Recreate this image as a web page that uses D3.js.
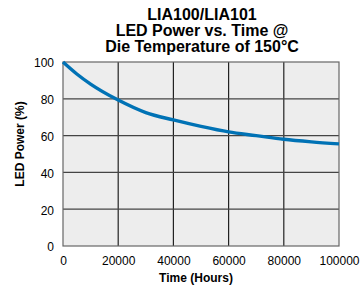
<!DOCTYPE html>
<html>
<head>
<meta charset="utf-8">
<script src="https://cdn.jsdelivr.net/npm/d3@7"></script>
<style>
body { margin: 0; background: #fff; }
text { font-family: "Liberation Sans", Arial, sans-serif; }
</style>
</head>
<body>
<div id="chart"></div>
<script>
// values
var hours = [0, 5000, 10000, 20000, 30000, 40000, 50000, 60000, 70000, 80000, 90000, 100000];
var power = [100, 93.5, 88, 79.3, 72.5, 68.5, 65, 62, 60, 58, 56.6, 55.5];
var xTicks = [0, 20000, 40000, 60000, 80000, 100000];
var yTicks = [0, 20, 40, 60, 80, 100];
var titleLines = ["LIA100/LIA101", "LED Power vs. Time @", "Die Temperature of 150°C"];

var width = 361, height = 293;
var plotLeft = 63, plotRight = 339, plotTop = 62, plotBottom = 246;

var svg = d3.select("#chart").append("svg")
	.attr("width", width)
	.attr("height", height);

var x = d3.scaleLinear().domain([0, 100000]).range([plotLeft, plotRight]);
var y = d3.scaleLinear().domain([0, 100]).range([plotBottom, plotTop]);

// plot background
svg.append("rect")
	.attr("x", plotLeft).attr("y", plotTop)
	.attr("width", plotRight - plotLeft).attr("height", plotBottom - plotTop)
	.style("fill", "#ededed");

// grid
svg.append("g").selectAll("line")
	.data(xTicks.slice(1, -1))
	.enter().append("line")
	.attr("x1", d => x(d)).attr("x2", d => x(d))
	.attr("y1", plotTop).attr("y2", plotBottom)
	.style("stroke", "#222").style("stroke-width", 1.2);

svg.append("g").selectAll("line")
	.data(yTicks.slice(1, -1))
	.enter().append("line")
	.attr("x1", plotLeft).attr("x2", plotRight)
	.attr("y1", d => y(d)).attr("y2", d => y(d))
	.style("stroke", "#444").style("stroke-width", 1.2);

svg.append("rect")
	.attr("x", plotLeft).attr("y", plotTop)
	.attr("width", plotRight - plotLeft).attr("height", plotBottom - plotTop)
	.style("fill", "none").style("stroke", "#666").style("stroke-width", 1.2);

// curve
var line = d3.line()
	.x(d => x(d[0]))
	.y(d => y(d[1]))
	.curve(d3.curveMonotoneX);

svg.append("path")
	.datum(hours.map((h, i) => [h, power[i]]))
	.attr("d", line)
	.style("fill", "none")
	.style("stroke", "#0072b5")
	.style("stroke-width", 3.4);

// axes (labels only)
var xAxis = svg.append("g")
	.attr("transform", "translate(0," + plotBottom + ")")
	.call(d3.axisBottom(x).tickValues(xTicks).tickFormat(d3.format("d")).tickSize(0).tickPadding(10.5));
var yAxis = svg.append("g")
	.attr("transform", "translate(" + plotLeft + ",1)")
	.call(d3.axisLeft(y).tickValues(yTicks).tickSize(0).tickPadding(9));

[xAxis, yAxis].forEach(function(a) {
	a.select(".domain").remove();
	a.selectAll("text")
		.style("font-family", "'Liberation Sans', Arial, sans-serif")
		.style("font-size", "12px")
		.style("fill", "#000");
});

// titles
svg.append("g").selectAll("text")
	.data(titleLines)
	.enter().append("text")
	.attr("x", 202)
	.attr("y", (d, i) => 20 + i * 16)
	.attr("text-anchor", "middle")
	.style("font-size", "16px")
	.style("font-weight", "bold")
	.text(d => d);

svg.append("text")
	.attr("x", 196)
	.attr("y", 282)
	.attr("text-anchor", "middle")
	.style("font-size", "12px")
	.style("font-weight", "bold")
	.text("Time (Hours)");

svg.append("text")
	.attr("transform", "translate(24,144) rotate(-90)")
	.attr("text-anchor", "middle")
	.style("font-size", "12px")
	.style("font-weight", "bold")
	.text("LED Power (%)");
</script>
</body>
</html>
